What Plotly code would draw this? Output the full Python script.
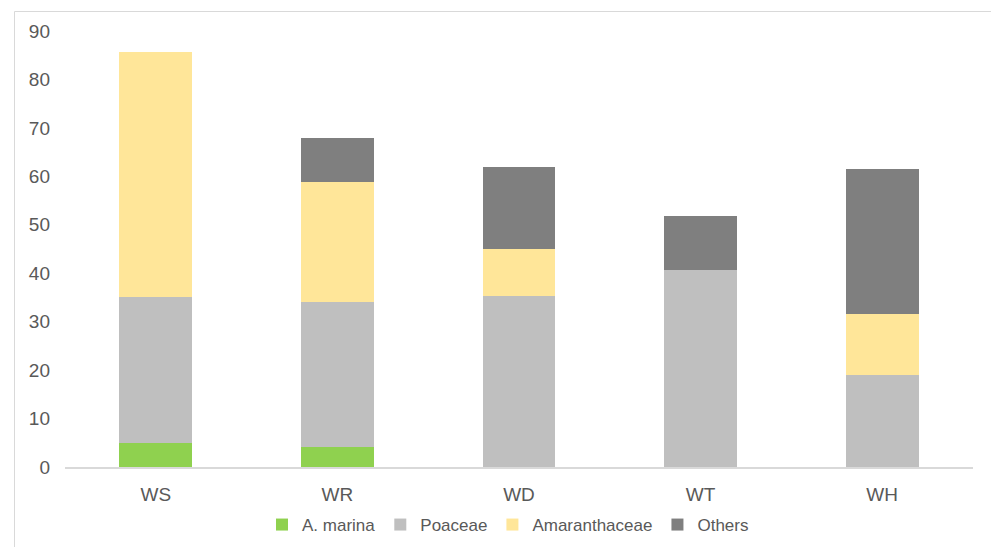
import plotly.graph_objects as go

sites = ["WS", "WR", "WD", "WT", "WH"]
a_marina = [5.0, 4.2, 0, 0, 0]
poaceae = [30.0, 29.8, 35.2, 40.7, 18.9]
amaranthaceae = [50.7, 24.8, 9.8, 0, 12.7]
others = [0, 9.1, 17.0, 11.1, 29.9]

series = [
    ("A. marina", a_marina, "#8fd14f"),
    ("Poaceae", poaceae, "#bfbfbf"),
    ("Amaranthaceae", amaranthaceae, "#ffe699"),
    ("Others", others, "#7f7f7f"),
]

W, H = 991, 547
ml, mr, mt, mb = 65, 18, 31, 80
pw, ph = W - ml - mr, H - mt - mb

def px_x(x):
    return (x - ml) / pw

def px_y(y):
    return (H - mb - y) / ph

fig = go.Figure()
for name, vals, col in series:
    fig.add_trace(go.Bar(x=sites, y=vals, name=name, marker=dict(color=col, line=dict(width=0))))

font = "Liberation Sans, Arial, sans-serif"
fig.update_layout(
    barmode="stack",
    bargap=0.6,
    width=W, height=H,
    margin=dict(l=ml, r=mr, t=mt, b=mb, autoexpand=False),
    paper_bgcolor="white",
    plot_bgcolor="white",
    font=dict(family=font, size=19, color="#595959"),
    showlegend=True,
    legend=dict(
        orientation="h", x=px_x(508), xanchor="center", y=px_y(525), yanchor="middle",
        font=dict(size=17, color="#595959"), traceorder="normal",
        itemwidth=30, bgcolor="rgba(0,0,0,0)",
    ),
    xaxis=dict(
        showgrid=False, showline=True, linecolor="#d9d9d9", linewidth=1.5,
        ticks="", ticklabelstandoff=9, tickfont=dict(size=19, color="#595959"),
    ),
    yaxis=dict(
        range=[0, 90], dtick=10, showgrid=False, showline=False, zeroline=False,
        ticks="", ticklabelstandoff=14, tickfont=dict(size=19, color="#595959"),
    ),
    shapes=[dict(
        type="rect", xref="paper", yref="paper",
        x0=px_x(14.5), x1=px_x(1005), y0=px_y(560), y1=px_y(11.5),
        line=dict(color="#d9d9d9", width=1), fillcolor="rgba(0,0,0,0)", layer="below",
    )],
)

fig.write_html("out.html")
